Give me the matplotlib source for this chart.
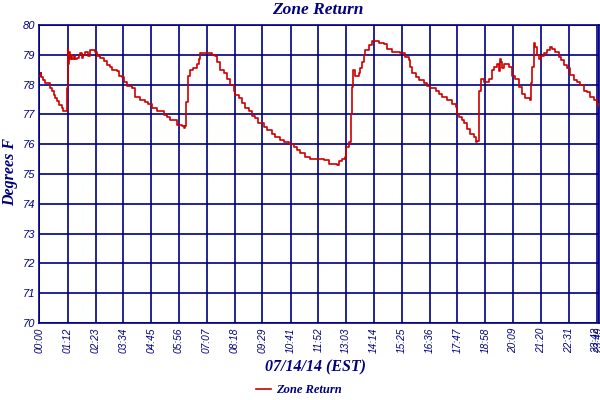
import matplotlib
matplotlib.use("Agg")
import matplotlib.pyplot as plt

# time in minutes after midnight, temperature in degrees F
minutes = [0, 3, 5, 10, 13, 26, 32, 36, 40, 44, 51, 57, 61, 70, 71, 72, 73, 75, 77, 80, 84, 87, 90, 95,
           100, 104, 108, 112, 116, 121, 125, 129, 135, 142, 146, 151, 155, 164, 172, 181, 185, 198,
           202, 210, 215, 223, 236, 244, 257, 270, 278, 287, 300, 317, 325, 334, 351, 364, 368, 372,
           374, 378, 385, 393, 402, 408, 410, 436, 440, 449, 453, 462, 470, 479, 487, 496, 500, 508,
           517, 525, 534, 542, 551, 559, 572, 581, 593, 602, 615, 623, 636, 649, 657, 666, 679, 691,
           725, 738, 759, 764, 772, 781, 783, 789, 794, 798, 800, 806, 815, 819, 823, 828, 832, 840,
           849, 857, 866, 879, 887, 900, 921, 934, 942, 947, 951, 960, 968, 981, 989, 998, 1011, 1019,
           1028, 1040, 1053, 1062, 1066, 1070, 1079, 1083, 1091, 1100, 1109, 1115, 1117, 1121, 1123,
           1126, 1134, 1147, 1155, 1160, 1168, 1173, 1175, 1177, 1181, 1185, 1194, 1198, 1206, 1215,
           1223, 1232, 1240, 1253, 1255, 1257, 1262, 1266, 1270, 1274, 1279, 1287, 1296, 1304, 1309,
           1317, 1326, 1330, 1338, 1347, 1355, 1364, 1372, 1381, 1389, 1398, 1406, 1415, 1423, 1429]
temps = [78.3, 78.4, 78.25, 78.15, 78.04, 77.9, 77.77, 77.65, 77.55, 77.45, 77.3, 77.2, 77.1, 77.87, 77.87, 79.2, 78.7, 79.1, 78.85, 79.0, 78.85, 78.95, 78.85, 78.9,
         79.0, 79.05, 78.9, 79.0, 79.1, 79.1, 78.95, 79.15, 79.15, 79.1, 78.95, 79.0, 78.9, 78.8, 78.65, 78.6, 78.5, 78.45,
         78.3, 78.25, 78.1, 77.95, 77.9, 77.6, 77.5, 77.4, 77.35, 77.2, 77.1, 76.98, 76.9, 76.8, 76.64, 76.6, 76.55, 76.6,
         77.4, 78.3, 78.48, 78.55, 78.7, 78.85, 79.05, 79.05, 78.98, 78.95, 78.75, 78.5, 78.4, 78.18, 77.99, 77.8, 77.65, 77.55,
         77.37, 77.22, 77.1, 76.95, 76.87, 76.7, 76.57, 76.46, 76.35, 76.24, 76.14, 76.06, 76.0, 75.9, 75.8, 75.7, 75.58, 75.5,
         75.47, 75.33, 75.3, 75.45, 75.5, 75.58, 75.92, 76.07, 77.03, 77.92, 78.48, 78.3, 78.4, 78.57, 78.75, 78.98, 79.15, 79.32,
         79.45, 79.45, 79.38, 79.35, 79.2, 79.1, 79.05, 78.94, 78.83, 78.6, 78.38, 78.27, 78.15, 78.04, 77.95, 77.87, 77.8, 77.7,
         77.6, 77.47, 77.36, 77.25, 77.03, 76.9, 76.8, 76.7, 76.52, 76.35, 76.24, 76.07, 76.1, 76.58, 77.8,
         78.2, 78.08, 78.2, 78.48, 78.6, 78.7, 78.45, 78.85, 78.75, 78.55, 78.7, 78.68, 78.6, 78.3, 78.2,
         77.93, 77.7, 77.54, 77.47, 78.04, 78.6, 79.38, 79.27, 78.98, 78.87, 78.95, 79.05, 79.15, 79.27, 79.2,
         79.1, 78.94, 78.83, 78.66, 78.55, 78.32, 78.15, 78.1, 77.98, 77.8, 77.75, 77.6, 77.5, 77.36, 77.27]

tick_labels = ["00:00", "01:12", "02:23", "03:34", "04:45", "05:56", "07:07", "08:18", "09:29",
               "10:41", "11:52", "13:03", "14:14", "15:25", "16:36", "17:47", "18:58", "20:09",
               "21:20", "22:31", "23:42", "23:49"]
y_ticks = [70, 71, 72, 73, 74, 75, 76, 77, 78, 79, 80]

def to_min(s):
    h, m = s.split(":")
    return int(h) * 60 + int(m)

tick_pos = [to_min(s) for s in tick_labels]

NAVY = "#000080"
RED = "#cc0000"

fig = plt.figure(figsize=(6, 4), dpi=100)
ax = fig.add_axes([39.5 / 600, 1 - 323 / 400, (599.3 - 39.5) / 600, (323 - 25) / 400])

ax.step(minutes, temps, where="post", color=RED, lw=1.2, label="Zone Return", zorder=3)

ax.set_xlim(0, tick_pos[-1])
ax.set_ylim(70, 80)
ax.set_xticks(tick_pos)
ax.set_xticklabels(tick_labels, rotation=90, fontstyle="italic", color=NAVY,
                   family="Liberation Sans", fontsize=7.3)
ax.set_yticks(y_ticks)
ax.set_yticklabels([str(v) for v in y_ticks], fontstyle="italic", color=NAVY,
                   family="Liberation Sans", fontsize=8)
ax.tick_params(length=0, pad=3)
ax.grid(True, color=NAVY, lw=1.2)
ax.set_axisbelow(True)
for sp in ax.spines.values():
    sp.set_color(NAVY)
    sp.set_linewidth(1.2)

fig.text(318 / 600, 1 - 10 / 400, "Zone Return", ha="center", va="center", color=NAVY,
         family="Liberation Serif", fontstyle="italic", fontweight="bold", fontsize=12.5)
fig.text(316 / 600, 1 - 367 / 400, "07/14/14 (EST)", ha="center", va="center", color=NAVY,
         family="Liberation Serif", fontstyle="italic", fontweight="bold", fontsize=11.5)
fig.text(10 / 600, 1 - 172 / 400, "Degrees F", ha="center", va="center", rotation=90, color=NAVY,
         family="Liberation Serif", fontstyle="italic", fontweight="bold", fontsize=11.5)

leg = fig.legend(loc="center", bbox_to_anchor=(299 / 600, 1 - 390 / 400), frameon=False,
                 handlelength=1.2, handletextpad=0.4,
                 prop={"family": "Liberation Serif", "style": "italic", "weight": "bold", "size": 9})
for t in leg.get_texts():
    t.set_color(NAVY)

fig.savefig("out.png", dpi=100)
